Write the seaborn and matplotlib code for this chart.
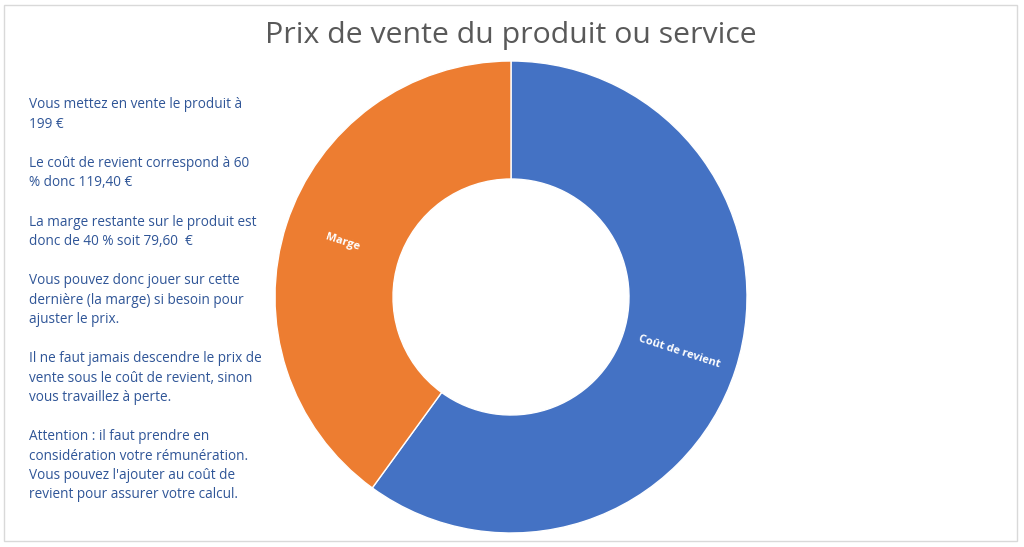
import matplotlib
matplotlib.use("Agg")
import matplotlib.pyplot as plt
import seaborn as sns
from matplotlib.patches import Rectangle

# Donnees
categories = ["Coût de revient", "Marge"]
parts = [60, 40]
couleurs = ["#4472C4", "#ED7D31"]

titre = "Prix de vente du produit ou service"
notes = [
    ["Vous mettez en vente le produit à", "199 €"],
    ["Le coût de revient correspond à 60", "% donc 119,40 €"],
    ["La marge restante sur le produit est", "donc de 40 % soit 79,60  €"],
    ["Vous pouvez donc jouer sur cette", "dernière (la marge) si besoin pour", "ajuster le prix."],
    ["Il ne faut jamais descendre le prix de", "vente sous le coût de revient, sinon",
     "vous travaillez à perte."],
    ["Attention : il faut prendre en", "considération votre rémunération.",
     "Vous pouvez l'ajouter au coût de", "revient pour assurer votre calcul."],
]

sns.set_theme(style="white")
plt.rcParams['font.family'] = ['Open Sans', 'DejaVu Sans']

W, H = 1024, 547
fig = plt.figure(figsize=(W / 100, H / 100), dpi=100)
fig.patch.set_facecolor("white")

# cadre gris clair
fig.add_artist(Rectangle((4 / W, 6 / H), 1013 / W, 536 / H, transform=fig.transFigure,
                         fill=False, edgecolor="#D9D9D9", linewidth=1))

# Anneau
cx, cy, r = 511, 297, 236
ax = fig.add_axes([(cx - r) / W, (H - cy - r) / H, 2 * r / W, 2 * r / H])
wedges, labels = ax.pie(parts, labels=categories, colors=couleurs, startangle=90,
                        counterclock=False, labeldistance=0.75, rotatelabels=True,
                        wedgeprops=dict(width=0.5, edgecolor="white", linewidth=1),
                        textprops=dict(color="white", fontsize=8, fontweight="bold"))
for t in labels:
    t.set_ha("center")
    t.set_va("center")
ax.set_xlim(-1, 1)
ax.set_ylim(-1, 1)
ax.set_aspect("equal")
ax.axis("off")

# Titre
fig.text(cx / W, 1 - 35 / H, titre, ha="center", va="center", fontsize=21.8, color="#595959")

# Texte explicatif (une ligne a la fois)
y = 105
for bloc in notes:
    for ligne in bloc:
        fig.text(29 / W, 1 - y / H, ligne, ha="left", va="center", fontsize=9.8,
                 color="#2F5597")
        y += 19.5
    y += 19.5

fig.savefig("out.png", dpi=100)
